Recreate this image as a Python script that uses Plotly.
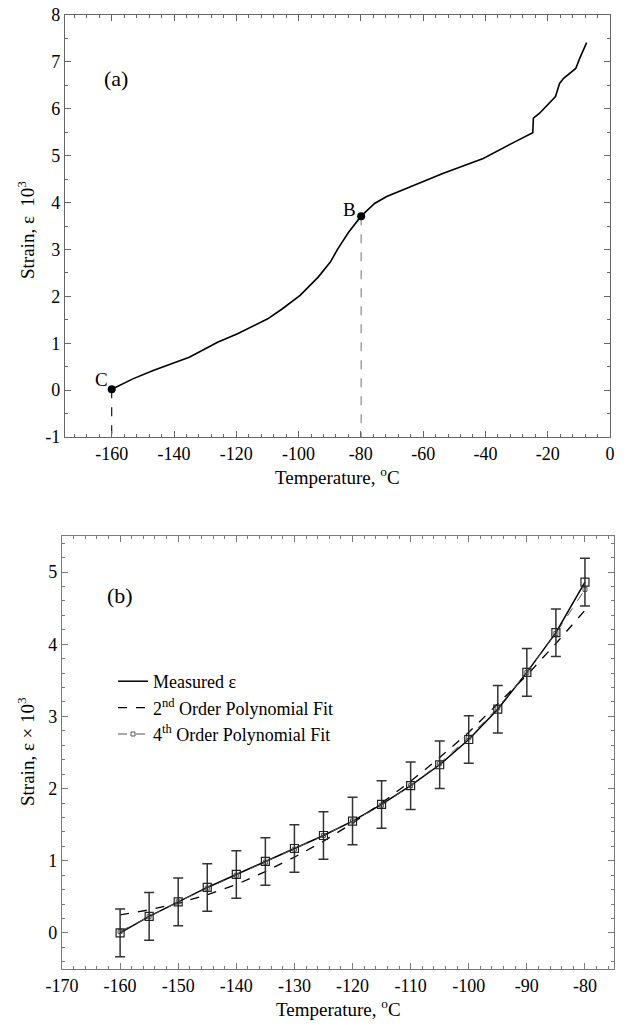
import plotly.graph_objects as go

# ---------- Panel (a) data ----------
temp_a = [-160.0, -153.2, -146.7, -135.1, -126.0, -119.6, -109.9, -105.3, -99.5, -93.7,
          -89.8, -87.5, -84.0, -79.9, -75.6, -71.7, -53.7, -40.7, -30.4, -24.8, -24.6,
          -22.7, -17.5, -16.2, -14.9, -11.0, -9.7, -7.5]
strain_a = [0.02, 0.24, 0.42, 0.70, 1.02, 1.20, 1.52, 1.73, 2.02, 2.41,
            2.73, 3.00, 3.36, 3.71, 3.98, 4.13, 4.62, 4.94, 5.30, 5.49, 5.80,
            5.90, 6.26, 6.54, 6.65, 6.86, 7.08, 7.41]
point_B = (-79.9, 3.71)
point_C = (-160.0, 0.02)
xticks_a = [-160, -140, -120, -100, -80, -60, -40, -20, 0]
xlabels_a = ["-160", "-140", "-120", "-100", "-80", "-60", "-40", "-20", "0"]
yticks_a = [-1, 0, 1, 2, 3, 4, 5, 6, 7, 8]
ylabels_a = ["-1", "0", "1", "2", "3", "4", "5", "6", "7", "8"]

# ---------- Panel (b) data ----------
temp_b = [-160, -155, -150, -145, -140, -135, -130, -125, -120, -115, -110,
          -105, -100, -95, -90, -85, -80]
measured = [0.00, 0.23, 0.43, 0.63, 0.81, 0.99, 1.17, 1.35, 1.55, 1.78, 2.04,
            2.33, 2.68, 3.10, 3.61, 4.16, 4.86]
err = [0.33] * 17
fit2 = [0.25, 0.32, 0.41, 0.53, 0.67, 0.85, 1.05, 1.27, 1.52, 1.80, 2.10,
        2.43, 2.78, 3.17, 3.57, 4.01, 4.47]
fit4 = [0.02, 0.23, 0.43, 0.62, 0.80, 0.98, 1.16, 1.35, 1.55, 1.77, 2.04,
        2.35, 2.71, 3.12, 3.61, 4.15, 4.76]
xticks_b = [-170, -160, -150, -140, -130, -120, -110, -100, -90, -80]
xlabels_b = ["-170", "-160", "-150", "-140", "-130", "-120", "-110", "-100", "-90", "-80"]
yticks_b = [0, 1, 2, 3, 4, 5]
ylabels_b = ["0", "1", "2", "3", "4", "5"]

FONT = "Liberation Serif"
W, H = 634, 1036
OFF = 0  # body margin removed via post_script


def px(x):
    return (x - OFF) / W


def py(y):
    return 1 - (y - OFF) / H


fig = go.Figure()

# Panel (a)
fig.add_trace(go.Scatter(x=temp_a, y=strain_a, mode="lines",
                         line=dict(color="black", width=1.6),
                         xaxis="x", yaxis="y", showlegend=False))
fig.add_trace(go.Scatter(x=[point_B[0], point_B[0]], y=[point_B[1], yticks_a[0]], mode="lines",
                         line=dict(color="#8a8a8a", width=1.2, dash="dash"),
                         xaxis="x", yaxis="y", showlegend=False))
fig.add_trace(go.Scatter(x=[point_C[0], point_C[0]], y=[point_C[1], yticks_a[0]], mode="lines",
                         line=dict(color="black", width=1.1, dash="dash"),
                         xaxis="x", yaxis="y", showlegend=False))
fig.add_trace(go.Scatter(x=[point_B[0], point_C[0]], y=[point_B[1], point_C[1]], mode="markers",
                         marker=dict(color="black", size=8),
                         xaxis="x", yaxis="y", showlegend=False))

# Panel (b)
fig.add_trace(go.Scatter(x=temp_b, y=measured, mode="lines", name="Measured ε",
                         line=dict(color="black", width=1.5),
                         xaxis="x2", yaxis="y2", legendgroup="a"))
fig.add_trace(go.Scatter(x=temp_b, y=fit2, mode="lines",
                         name="2<sup>nd</sup> Order Polynomial Fit",
                         line=dict(color="black", width=1.3, dash="dash"),
                         xaxis="x2", yaxis="y2", legendgroup="b"))
fig.add_trace(go.Scatter(x=temp_b, y=fit4, mode="lines+markers",
                         name="4<sup>th</sup> Order Polynomial Fit",
                         line=dict(color="#555555", width=1.0, dash="dash"),
                         marker=dict(symbol="square-open", size=4, color="#555555"),
                         xaxis="x2", yaxis="y2", legendgroup="c"))
fig.add_trace(go.Scatter(x=temp_b, y=measured, mode="markers",
                         marker=dict(symbol="square-open", size=8, color="#222222",
                                     line=dict(width=1.2)),
                         error_y=dict(type="data", array=err, visible=True,
                                      color="#333333", thickness=1.5, width=5),
                         xaxis="x2", yaxis="y2", showlegend=False))

tickfont = dict(family=FONT, size=18, color="black")


def axis_common(color):
    return dict(showgrid=False, zeroline=False, showline=True, linecolor=color, linewidth=1.3,
                mirror="allticks", ticks="inside", ticklen=6, tickcolor=color, tickwidth=1,
                tickfont=tickfont, tickmode="array", automargin=False)


xa = axis_common("#666666")
xa.update(domain=[px(65), px(610)], range=[-175, 0], tickvals=xticks_a, ticktext=xlabels_a,
          anchor="y",
          minor=dict(tickmode="linear", tick0=0, dtick=4, ticklen=3, ticks="inside",
                     tickcolor="#666666"))
ya = axis_common("#666666")
ya.update(domain=[py(437), py(15)], range=[-1, 8], tickvals=yticks_a, ticktext=ylabels_a,
          anchor="x",
          minor=dict(tickmode="linear", tick0=0, dtick=0.5, ticklen=3, ticks="inside",
                     tickcolor="#666666"))
xb = axis_common("#7a7a7a")
xb.update(domain=[px(62), px(614)], range=[-170, -75], tickvals=xticks_b, ticktext=xlabels_b,
          anchor="y2",
          minor=dict(tickmode="linear", tick0=-170, dtick=2, ticklen=3, ticks="inside",
                     tickcolor="#7a7a7a"))
yb = axis_common("#7a7a7a")
yb.update(domain=[py(969), py(536)], range=[-0.5, 5.5], tickvals=yticks_b, ticktext=ylabels_b,
          anchor="x2",
          minor=dict(tickmode="linear", tick0=0, dtick=0.2, ticklen=3, ticks="inside",
                     tickcolor="#7a7a7a"))

afont = dict(family=FONT, size=19, color="black")
annotations = [
    dict(text="Temperature, <sup>o</sup>C", xref="paper", yref="paper",
         x=px(337.5), y=py(476), showarrow=False, font=afont, xanchor="center", yanchor="middle"),
    dict(text="Temperature, <sup>o</sup>C", xref="paper", yref="paper",
         x=px(338), y=py(1008), showarrow=False, font=afont, xanchor="center", yanchor="middle"),
    dict(text="Strain, ε  10<sup>3</sup>", xref="paper", yref="paper", textangle=-90,
         x=px(26), y=py(230), showarrow=False, font=afont, xanchor="center", yanchor="middle"),
    dict(text="Strain, ε × 10<sup>3</sup>", xref="paper", yref="paper", textangle=-90,
         x=px(26), y=py(752), showarrow=False, font=afont, xanchor="center", yanchor="middle"),
    dict(text="(a)", xref="x", yref="y", x=-158.6, y=6.64, showarrow=False,
         font=dict(family=FONT, size=22, color="black")),
    dict(text="(b)", xref="x2", yref="y2", x=-160, y=4.68, showarrow=False,
         font=dict(family=FONT, size=22, color="black")),
    dict(text="B", xref="x", yref="y", x=-83.8, y=3.86, showarrow=False, font=afont),
    dict(text="C", xref="x", yref="y", x=-163.2, y=0.22, showarrow=False, font=afont),
]

fig.update_layout(
    width=W, height=H,
    margin=dict(l=0, r=0, t=0, b=0, pad=0, autoexpand=False),
    paper_bgcolor="white", plot_bgcolor="white",
    xaxis=xa, yaxis=ya, xaxis2=xb, yaxis2=yb,
    annotations=annotations,
    legend=dict(x=px(113), y=py(663), xanchor="left", yanchor="top",
                font=dict(family=FONT, size=18, color="black"),
                bgcolor="rgba(0,0,0,0)", itemwidth=30, tracegroupgap=12,
                traceorder="normal"),
    font=dict(family=FONT),
)

fig.write_html("out.html", config={"displayModeBar": False},
               post_script="document.body.style.margin='0';document.body.style.padding='0';")
